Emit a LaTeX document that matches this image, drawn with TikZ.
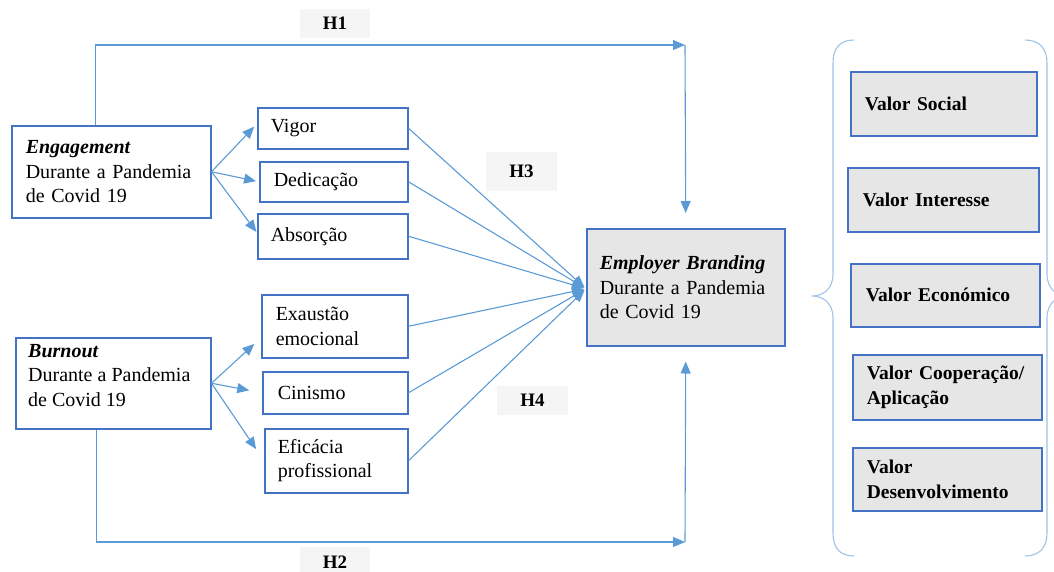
\documentclass[tikz,border=0pt]{standalone}
\usepackage{fontspec}
\setmainfont{Liberation Serif}
\usetikzlibrary{arrows.meta,calc}
\definecolor{boxblue}{RGB}{68,114,196}
\definecolor{linkblue}{RGB}{91,155,213}
\definecolor{bracecol}{RGB}{157,195,230}
\definecolor{ebfill}{RGB}{231,230,230}
\definecolor{hfill}{RGB}{245,245,245}
\begin{document}
\begin{tikzpicture}[x=1pt,y=-1pt,
 box/.style={draw=boxblue, line width=1.5pt, anchor=north west, align=left, inner ysep=0pt, font=\fontsize{20}{24.5}\selectfont},
 gbox/.style={box, fill=ebfill},
 vbox/.style={gbox, font=\fontsize{19.5}{25.5}\selectfont\bfseries},
 conn/.style={draw=linkblue, line width=1.1pt},
 arr/.style={conn, -{Triangle[length=12pt,width=10pt]}},
 hlab/.style={fill=hfill, font=\fontsize{19}{22}\selectfont\bfseries, inner sep=0pt},
 txt/.style={anchor=north west, align=left, inner sep=0pt, font=\fontsize{20}{24.5}\selectfont},
 brace/.style={draw=bracecol, line width=1.1pt}]
\useasboundingbox (0,0) rectangle (1054,571);

% left column
\node[box, minimum width=199pt, minimum height=92pt, text width=171pt, inner xsep=14pt] (eng) at (11,125) {\textbf{\textit{Engagement}}\\Durante a Pandemia\\de Covid 19};
\node[box, minimum width=195pt, minimum height=91pt] (bur) at (15,337) {};
\node[txt] (burtxt) at (28,344) {\textbf{\textit{Burnout}}\\Durante a Pandemia\\de Covid 19};

% middle column
\node[box, minimum width=150pt, minimum height=41pt, text width=124pt, inner xsep=13pt] (vig) at (257,107) {Vigor};
\node[box, minimum width=148pt, minimum height=40pt, text width=120pt, inner xsep=14pt] (ded) at (259,161) {Dedicação};
\node[box, minimum width=150pt, minimum height=45pt, text width=124pt, inner xsep=13pt] (abs) at (257,213) {Absorção};
\node[box, minimum width=146pt, minimum height=63pt, text width=118pt, inner xsep=14pt] (exa) at (261,294) {Exaustão\\emocional};
\node[box, minimum width=145pt, minimum height=42pt, text width=115pt, inner xsep=15pt] (cin) at (262,371) {Cinismo};
\node[box, minimum width=143pt, minimum height=64pt, text width=117pt, inner xsep=13pt] (efi) at (264,428) {Eficácia\\profissional};

% target
\node[gbox, minimum width=198pt, minimum height=117pt, text width=172pt, inner xsep=13pt] (eb) at (586,228) {\textbf{\textit{Employer Branding}}\\Durante a Pandemia\\de Covid 19};

% value boxes
\node[vbox, minimum width=186pt, minimum height=64pt, text width=158pt, inner xsep=14pt] (vs) at (850,71) {Valor Social};
\node[vbox, minimum width=191pt, minimum height=64pt, text width=161pt, inner xsep=15pt] (vi) at (847,167) {Valor Interesse};
\node[vbox, minimum width=189pt, minimum height=63pt, text width=159pt, inner xsep=15pt] (ve) at (850,263) {Valor Económico};
\node[vbox, minimum width=189pt, minimum height=65pt, text width=161pt, inner xsep=14pt] (vc) at (852,354) {Valor Cooperação/\\Aplicação};
\node[vbox, minimum width=189pt, minimum height=63pt, text width=161pt, inner xsep=14pt] (vd) at (852,447) {Valor\\Desenvolvimento};

% hypothesis labels
\node[hlab, minimum width=70pt, minimum height=29pt] (h1) at (335,23.5) {H1};
\node[hlab, minimum width=70pt, minimum height=30pt] (h2) at (335,562) {H2};
\node[hlab, minimum width=71pt, minimum height=39pt] (h3) at (521.5,171.5) {H3};
\node[hlab, minimum width=71pt, minimum height=29pt] (h4) at (532.5,400.5) {H4};

% dimension arrows
\draw[arr, shorten >=4pt] (eng.east) -- ([yshift=4.5pt]vig.west);
\draw[arr, shorten >=3pt] (eng.east) -- (ded.west);
\draw[arr, shorten >=1pt] (eng.east) -- ([yshift=3.5pt]abs.west);
\draw[arr, shorten >=9pt] (bur.east) -- ([yshift=-11.5pt]exa.west);
\draw[arr, shorten >=13pt] (bur.east) -- (cin.west);
\draw[arr, shorten >=14pt] (bur.east) -- (efi.west);

% converging lines
\foreach \n in {vig,ded,abs,exa,cin,efi}
  \draw[arr, shorten >=2pt] (\n.east) -- ([yshift=-1.5pt]eb.west);

% H1 / H2 paths
\coordinate (h1c) at (685,45);
\coordinate (h2c) at (685,542);
\draw[arr] ([xshift=-15.5pt]eng.north) |- (h1c);
\draw[arr, shorten >=15pt] (h1c) -- (eb.north);
\draw[arr] ([xshift=-16.5pt]bur.south) |- (h2c);
\draw[arr, shorten >=15pt] (h2c) -- (eb.south);

% braces
\begin{scope}
\clip (0,0) rectangle (1054,571);
\draw[brace] (854,40) .. controls (840,40) and (833,48) .. (833,63) -- (833,274)
  .. controls (833,290) and (822,296) .. (812,296)
  .. controls (822,296) and (833,302) .. (833,318) -- (833,533)
  .. controls (833,548) and (840,556) .. (854,556);
\draw[brace] (1025,40) .. controls (1039,40) and (1047,48) .. (1047,63) -- (1047,274)
  .. controls (1047,290) and (1058,296) .. (1068,296)
  .. controls (1058,296) and (1047,302) .. (1047,318) -- (1047,533)
  .. controls (1047,548) and (1039,556) .. (1025,556);
\end{scope}
\end{tikzpicture}
\end{document}
